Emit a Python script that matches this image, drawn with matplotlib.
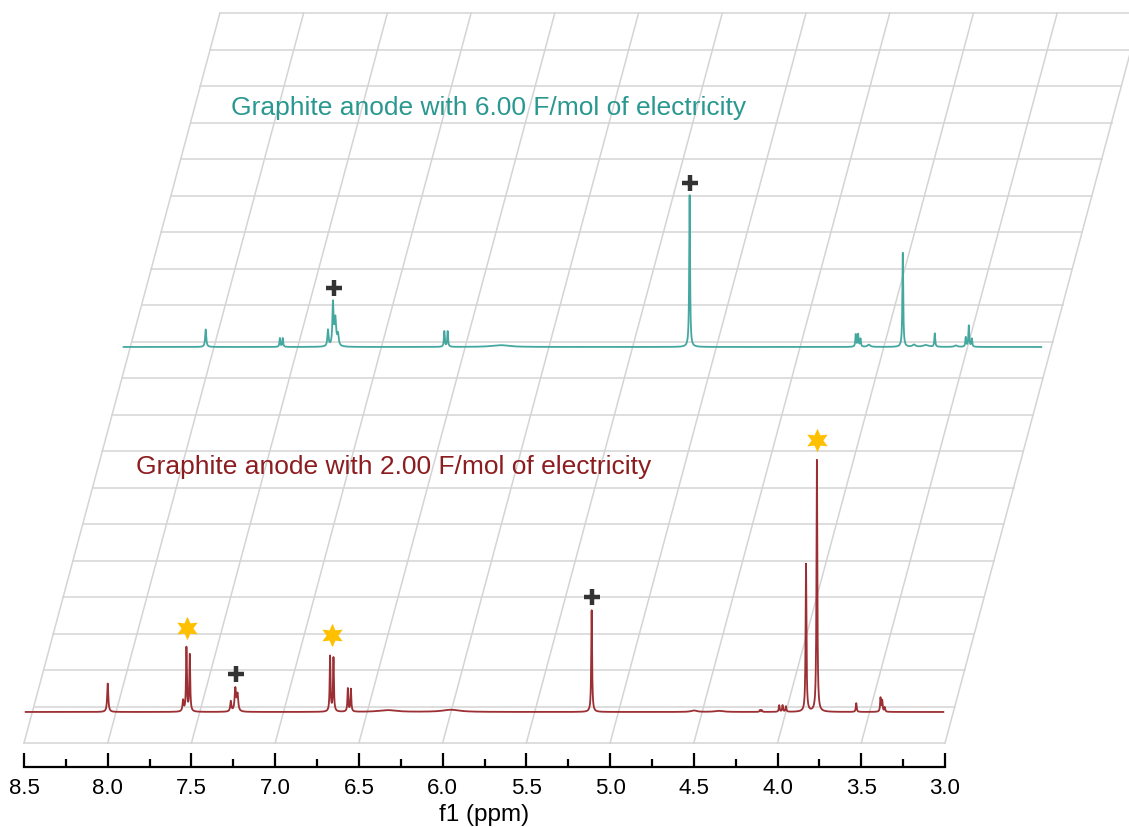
import numpy as np
import matplotlib.pyplot as plt

plt.rcParams['font.family'] = ['Liberation Sans', 'DejaVu Sans']

# axis ticks (ppm)
major_ticks = [8.5, 8.0, 7.5, 7.0, 6.5, 6.0, 5.5, 5.0, 4.5, 4.0, 3.5, 3.0]
minor_ticks = [8.25, 7.75, 7.25, 6.75, 6.25, 5.75, 5.25, 4.75, 4.25, 3.75, 3.25]
n_rows = 20          # horizontal grid rows
skew = 0.0585        # ppm shift per grid row (stacked-plot perspective)

# 2.00 F/mol spectrum: peak list (ppm, height in grid rows, half width ppm)
red_ppm = [8.00, 7.55, 7.530, 7.510, 7.265, 7.238, 7.225, 6.672, 6.652, 6.566, 6.548,
           6.33, 5.95, 5.110, 4.50, 4.35, 4.105, 4.095, 3.99, 3.97, 3.95,
           3.830, 3.765, 3.530, 3.385, 3.375, 3.36]
red_height = [0.78, 0.30, 1.75, 1.57, 0.28, 0.62, 0.45, 1.52, 1.47, 0.64, 0.62,
              0.05, 0.06, 2.80, 0.04, 0.03, 0.05, 0.05, 0.18, 0.18, 0.15,
              4.05, 6.90, 0.24, 0.38, 0.30, 0.12]
red_width = [0.004, 0.004, 0.003, 0.003, 0.004, 0.005, 0.005, 0.003, 0.003, 0.003, 0.003,
             0.06, 0.06, 0.003, 0.02, 0.03, 0.003, 0.003, 0.003, 0.003, 0.003,
             0.003, 0.003, 0.003, 0.003, 0.003, 0.003]

# 6.00 F/mol spectrum
teal_ppm = [8.00, 7.557, 7.540, 7.27, 7.240, 7.226, 7.21, 6.575, 6.555, 6.24,
            5.110, 4.118, 4.104, 4.090, 4.04, 3.837, 3.77, 3.70, 3.646, 3.52,
            3.461, 3.443, 3.425]
teal_height = [0.48, 0.24, 0.24, 0.45, 1.15, 0.75, 0.30, 0.43, 0.43, 0.05,
               4.18, 0.34, 0.34, 0.22, 0.06, 2.58, 0.06, 0.05, 0.37, 0.04,
               0.26, 0.58, 0.22]
teal_width = [0.004, 0.003, 0.003, 0.004, 0.004, 0.006, 0.005, 0.003, 0.003, 0.06,
              0.003, 0.003, 0.003, 0.003, 0.01, 0.003, 0.01, 0.02, 0.003, 0.01,
              0.003, 0.003, 0.003]

# baseline heights (grid rows) and row offset of each trace
red_base = 0.85
teal_base = 10.85
red_rows = 0
teal_rows = 10

# annotation markers (ppm, height above baseline)
red_plus_ppm = [7.235, 5.110]
red_plus_h = [1.04, 3.15]
teal_plus_ppm = [7.235, 5.110]
teal_plus_h = [1.62, 4.49]
star_ppm = [7.525, 6.66, 3.765]
star_h = [2.30, 2.11, 7.45]

red_label = "Graphite anode with 2.00 F/mol of electricity"
teal_label = "Graphite anode with 6.00 F/mol of electricity"
red_color = '#9b2f33'
red_text = '#8c1c1f'
teal_color = '#45a8a0'
teal_text = '#2a9890'


def spectrum(x, ppm, height, width):
    y = np.zeros_like(x)
    for p, h, w in zip(ppm, height, width):
        y += h * w**2 / ((x - p)**2 + w**2)
    return y


x = np.linspace(8.49, 3.01, 8000)
red_y = spectrum(x, red_ppm, red_height, red_width)
teal_y = spectrum(x, teal_ppm, teal_height, teal_width)

fig = plt.figure(figsize=(11.29, 8.28), dpi=100)
ax = fig.add_axes([24 / 1129, 84 / 828, 921 / 1129, 730 / 828])
ax.set_xlim(8.5, 3.0)
ax.set_ylim(0, n_rows)

# skewed grid
for r in range(n_rows + 1):
    ax.plot([major_ticks[0] - r * skew, major_ticks[-1] - r * skew], [r, r],
            color='#d4d4d4', lw=1.1, clip_on=False, zorder=1)
for t in major_ticks:
    ax.plot([t, t - n_rows * skew], [0, n_rows],
            color='#d4d4d4', lw=1.1, clip_on=False, zorder=1)

# spectra
ax.plot(x - red_rows * skew, red_base + red_y, color=red_color, lw=1.3,
        clip_on=False, zorder=3)
ax.plot(x - teal_rows * skew, teal_base + teal_y, color=teal_color, lw=1.3,
        clip_on=False, zorder=3)

# markers
ax.plot(np.array(red_plus_ppm) - red_rows * skew, red_base + np.array(red_plus_h),
        ls='none', marker='+', ms=11, mew=3.2, color='#333333', clip_on=False, zorder=4)
ax.plot(np.array(teal_plus_ppm) - teal_rows * skew, teal_base + np.array(teal_plus_h),
        ls='none', marker='+', ms=11, mew=3.2, color='#333333', clip_on=False, zorder=4)
ax.plot(np.array(star_ppm) - red_rows * skew, red_base + np.array(star_h),
        ls='none', marker=(6, 1, 0), ms=17, mew=0, color='#ffc000', clip_on=False, zorder=4)

# labels
ax.text(7.264, 17.42, teal_label, color=teal_text, fontsize=19, va='center', ha='left')
ax.text(7.83, 7.59, red_label, color=red_text, fontsize=19, va='center', ha='left')

# axis
for side in ['left', 'right', 'top']:
    ax.spines[side].set_visible(False)
ax.spines['bottom'].set_position(('outward', 17.3))
ax.spines['bottom'].set_linewidth(1.6)
ax.set_yticks([])
ax.set_xticks(major_ticks)
ax.set_xticks(minor_ticks, minor=True)
ax.set_xticklabels([f"{t:.1f}" for t in major_ticks])
ax.tick_params(axis='x', which='major', direction='in', length=10, width=1.6,
               labelsize=16, pad=7)
ax.tick_params(axis='x', which='minor', direction='in', length=5.5, width=1.6)
ax.set_xlabel("f1 (ppm)", fontsize=17.5, labelpad=4)

fig.savefig("out.png", dpi=100)
